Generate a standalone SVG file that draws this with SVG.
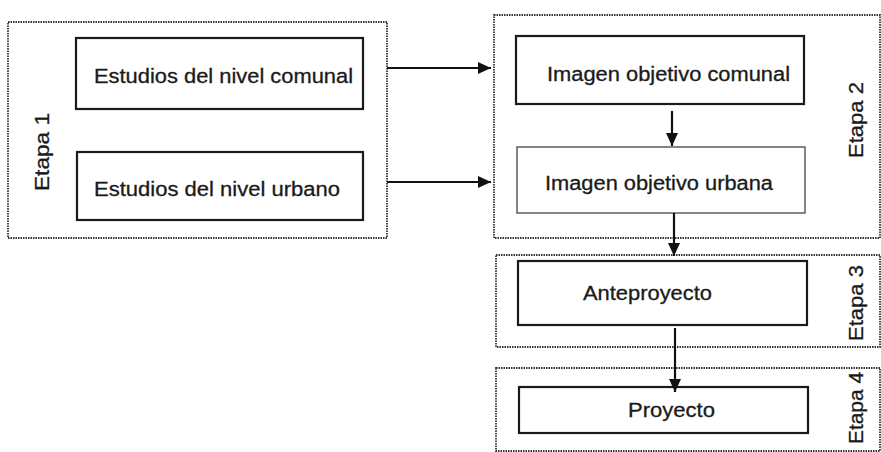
<svg xmlns="http://www.w3.org/2000/svg" width="881" height="452" viewBox="0 0 881 452">
<style>
.stage{fill:none;stroke:#333;stroke-width:1.8;stroke-dasharray:1.5 1}
.box{fill:#fff;stroke:#1a1a1a;stroke-width:2.2}
.thin{stroke-width:1.3;stroke:#444}
.t{font-family:"Liberation Sans",Arial,sans-serif;font-size:20px;fill:#1a1a1a;stroke:#1a1a1a;stroke-width:0.3}
.c{fill:none;stroke:#111;stroke-width:2.2}
</style>
<defs>
<marker id="ah" viewBox="0 0 13 12" refX="13" refY="6" markerWidth="13" markerHeight="12" orient="auto" markerUnits="userSpaceOnUse">
<path d="M0,0 L13,6 L0,12 z" fill="#111"/>
</marker>
</defs>
<rect width="881" height="452" fill="#fff"/>
<g id="etapa1">
<rect class="stage" x="8" y="22" width="379" height="216"/>
<text class="t" transform="translate(49,152) rotate(-90)" text-anchor="middle" textLength="78" lengthAdjust="spacingAndGlyphs">Etapa 1</text>
</g>
<g id="etapa2">
<rect class="stage" x="494" y="15" width="386" height="223"/>
<text class="t" transform="translate(863,120) rotate(-90)" text-anchor="middle" textLength="76" lengthAdjust="spacingAndGlyphs">Etapa 2</text>
</g>
<g id="etapa3">
<rect class="stage" x="496" y="255" width="384" height="92"/>
<text class="t" transform="translate(863,303) rotate(-90)" text-anchor="middle" textLength="76" lengthAdjust="spacingAndGlyphs">Etapa 3</text>
</g>
<g id="etapa4">
<rect class="stage" x="496" y="368" width="384" height="83"/>
<text class="t" transform="translate(863,408) rotate(-90)" text-anchor="middle" textLength="72" lengthAdjust="spacingAndGlyphs">Etapa 4</text>
</g>
<g id="n1">
<rect class="box" x="76" y="38" width="287" height="71"/>
<text class="t" x="94" y="83" textLength="259" lengthAdjust="spacingAndGlyphs">Estudios del nivel comunal</text>
</g>
<g id="n2">
<rect class="box" x="77" y="152" width="286" height="68"/>
<text class="t" x="94" y="196" textLength="246" lengthAdjust="spacingAndGlyphs">Estudios del nivel urbano</text>
</g>
<g id="n3">
<rect class="box" x="516" y="36" width="288" height="68"/>
<text class="t" x="547" y="81" textLength="243" lengthAdjust="spacingAndGlyphs">Imagen objetivo comunal</text>
</g>
<g id="n4">
<rect class="box thin" x="517" y="147" width="288" height="66"/>
<text class="t" x="545" y="190" textLength="228" lengthAdjust="spacingAndGlyphs">Imagen objetivo urbana</text>
</g>
<g id="n5">
<rect class="box" x="518" y="261" width="289" height="64"/>
<text class="t" x="583" y="300" textLength="129" lengthAdjust="spacingAndGlyphs">Anteproyecto</text>
</g>
<g id="n6">
<rect class="box" x="519" y="387" width="289" height="46"/>
<text class="t" x="628" y="417" textLength="87" lengthAdjust="spacingAndGlyphs">Proyecto</text>
</g>
<g id="connectors">
<line class="c" x1="387" y1="68" x2="491" y2="68" marker-end="url(#ah)"/>
<line class="c" x1="387" y1="182" x2="491" y2="182" marker-end="url(#ah)"/>
<line class="c" x1="672" y1="111" x2="672" y2="146" marker-end="url(#ah)"/>
<line class="c" x1="674" y1="213" x2="674" y2="256" marker-end="url(#ah)"/>
<line class="c" x1="675" y1="328" x2="675" y2="392" marker-end="url(#ah)"/>
</g>
</svg>
